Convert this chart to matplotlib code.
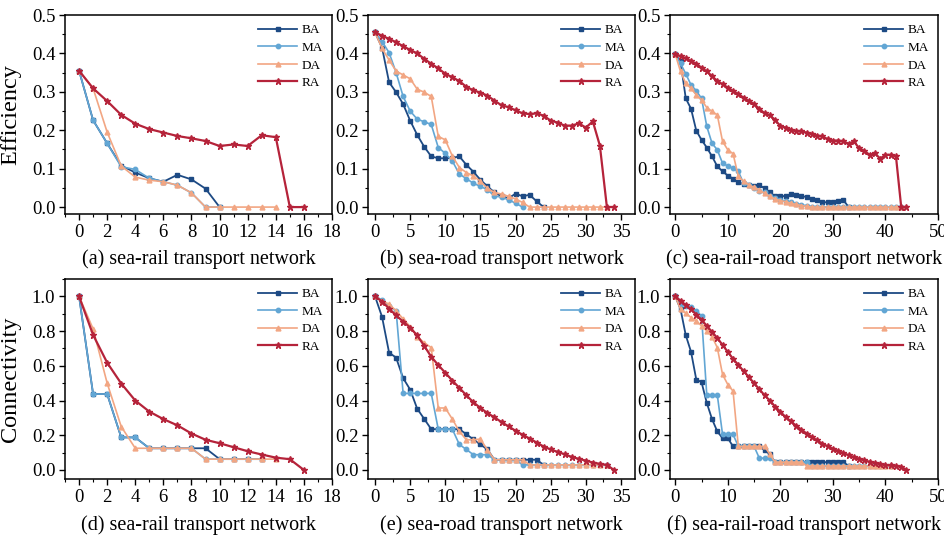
import matplotlib
matplotlib.use("Agg")
import matplotlib.pyplot as plt
from matplotlib.ticker import AutoMinorLocator
import numpy as np

plt.rcParams['font.family'] = ['Liberation Serif', 'DejaVu Serif']
plt.rcParams['mathtext.fontset'] = 'stix'

series_names = ["BA", "MA", "DA", "RA"]

# ---- (a) sea-rail efficiency ----
a_BA = [0.355, 0.226, 0.166, 0.108, 0.090, 0.075, 0.066, 0.084, 0.072, 0.048, 0.0]
a_MA = [0.355, 0.226, 0.166, 0.105, 0.098, 0.075, 0.066, 0.057, 0.037, 0.0, 0.0]
a_DA = [0.355, 0.309, 0.195, 0.107, 0.078, 0.070, 0.066, 0.057, 0.037, 0, 0, 0, 0, 0, 0]
a_RA = [0.355, 0.309, 0.276, 0.240, 0.217, 0.203, 0.194, 0.185, 0.179, 0.172, 0.159,
        0.163, 0.159, 0.187, 0.182, 0, 0]

# ---- (b) sea-road efficiency ----
b_BA = [0.455, 0.415, 0.325, 0.299, 0.268, 0.225, 0.188, 0.157, 0.132, 0.127, 0.127, 0.128,
        0.132, 0.110, 0.092, 0.071, 0.054, 0.038, 0.028, 0.023, 0.035, 0.028, 0.032, 0.015, 0]
b_MA = [0.455, 0.431, 0.402, 0.350, 0.288, 0.250, 0.229, 0.222, 0.215, 0.155, 0.140, 0.120,
        0.086, 0.074, 0.062, 0.054, 0.045, 0.029, 0.026, 0.019, 0.010, 0]
b_DA = [0.455, 0.413, 0.383, 0.354, 0.344, 0.334, 0.307, 0.299, 0.288, 0.184, 0.175, 0.133,
        0.103, 0.090, 0.081, 0.067, 0.049, 0.038, 0.034, 0.028, 0.021, 0.012, 0,
        0, 0, 0, 0, 0, 0, 0, 0, 0, 0, 0]
b_RA = [0.455, 0.446, 0.438, 0.429, 0.419, 0.409, 0.400, 0.386, 0.373, 0.361, 0.347, 0.338,
        0.328, 0.313, 0.304, 0.298, 0.290, 0.277, 0.265, 0.260, 0.252, 0.244, 0.242, 0.244,
        0.238, 0.225, 0.220, 0.212, 0.212, 0.218, 0.207, 0.223, 0.160, 0, 0]

# ---- (c) sea-rail-road efficiency ----
c_BA = [0.398, 0.379, 0.283, 0.256, 0.199, 0.175, 0.155, 0.132, 0.106, 0.093,
        0.082, 0.074, 0.064, 0.060, 0.057, 0.055, 0.057, 0.049, 0.038, 0.028,
        0.028, 0.029, 0.033, 0.031, 0.029, 0.026, 0.022, 0.019, 0.012, 0.013,
        0.014, 0.016, 0.018, 0]
c_MA = [0.398, 0.374, 0.347, 0.318, 0.303, 0.283, 0.210, 0.166, 0.149, 0.114,
        0.107, 0.101, 0.093, 0.062, 0.058, 0.049, 0.043, 0.038, 0.029, 0.023,
        0.019, 0.015, 0.012, 0.009, 0.006, 0.003,
        0, 0, 0, 0, 0, 0, 0, 0, 0, 0, 0, 0, 0, 0, 0, 0, 0, 0]
c_DA = [0.398, 0.353, 0.322, 0.309, 0.292, 0.279, 0.259, 0.249, 0.240, 0.171,
        0.149, 0.139, 0.080, 0.067, 0.058, 0.051, 0.045, 0.036, 0.028, 0.021,
        0.017, 0.014, 0.010, 0.007, 0.004, 0.002,
        0, 0, 0, 0, 0, 0, 0, 0, 0, 0, 0, 0, 0, 0, 0, 0, 0, 0]
c_RA = [0.398, 0.393, 0.387, 0.380, 0.373, 0.363, 0.353, 0.341, 0.328, 0.320,
        0.311, 0.302, 0.294, 0.285, 0.276, 0.268, 0.256, 0.244, 0.239, 0.227,
        0.211, 0.207, 0.201, 0.197, 0.197, 0.194, 0.190, 0.186, 0.184, 0.177,
        0.173, 0.173, 0.171, 0.165, 0.171, 0.153, 0.146, 0.136, 0.140, 0.126,
        0.136, 0.136, 0.132, 0, 0]

# ---- (d) sea-rail connectivity ----
d_BA = [1.0, 0.4375, 0.4375, 0.1875, 0.1875, 0.125, 0.125, 0.125, 0.125, 0.125,
        0.0625, 0.0625, 0.0625, 0.0625]
d_MA = [1.0, 0.4375, 0.4375, 0.1875, 0.1875, 0.125, 0.125, 0.125, 0.125, 0.0625,
        0.0625, 0.0625, 0.0625, 0.0625]
d_DA = [1.0, 0.8125, 0.5, 0.25, 0.125, 0.125, 0.125, 0.125, 0.125, 0.0625,
        0.0625, 0.0625, 0.0625, 0.0625, 0.0625]
d_RA = [1.0, 0.778, 0.618, 0.498, 0.400, 0.336, 0.293, 0.257, 0.210, 0.174,
        0.154, 0.131, 0.108, 0.089, 0.071, 0.062, 0.0]

# ---- (e) sea-road connectivity ----
e_BA = [1.0, 0.882, 0.676, 0.647, 0.529, 0.463, 0.353, 0.294, 0.235, 0.235,
        0.235, 0.235, 0.235, 0.206, 0.176, 0.147, 0.118, 0.0588, 0.0588, 0.0588,
        0.0588, 0.0588, 0.0588, 0.0588, 0.0294]
e_MA = [1.0, 0.98, 0.945, 0.917, 0.441, 0.441, 0.441, 0.441, 0.441, 0.235,
        0.235, 0.235, 0.147, 0.118, 0.088, 0.088, 0.088, 0.0588, 0.0588, 0.0588,
        0.0588, 0.0294, 0.0294, 0.0294, 0.0294, 0.0294, 0.0294, 0.0294, 0.0294,
        0.0294, 0.0294, 0.0294, 0.0294, 0.0294]
e_DA = [1.0, 0.975, 0.955, 0.917, 0.87, 0.826, 0.768, 0.733, 0.705, 0.357,
        0.357, 0.293, 0.222, 0.174, 0.174, 0.178, 0.116, 0.0588, 0.0588, 0.0588,
        0.0588, 0.0588, 0.0294, 0.0294, 0.0294, 0.0294, 0.0294, 0.0294, 0.0294,
        0.0294, 0.0294, 0.0294, 0.0294, 0.0294]
e_RA = [1.0, 0.97, 0.93, 0.89, 0.855, 0.82, 0.775, 0.715, 0.652, 0.604,
        0.56, 0.515, 0.473, 0.43, 0.39, 0.357, 0.328, 0.303, 0.276, 0.251,
        0.226, 0.203, 0.181, 0.158, 0.135, 0.118, 0.104, 0.09, 0.075, 0.064,
        0.054, 0.043, 0.035, 0.029, 0.0]

# ---- (f) sea-rail-road connectivity ----
f_BA = [1.0, 0.927, 0.776, 0.681, 0.521, 0.506, 0.386, 0.293, 0.222, 0.183,
        0.183, 0.136, 0.136, 0.136, 0.136, 0.136, 0.136, 0.114, 0.091, 0.045,
        0.045, 0.045, 0.045, 0.045, 0.045, 0.045, 0.045, 0.045, 0.045, 0.045,
        0.045, 0.045, 0.045, 0.023]
f_MA = [1.0, 0.956, 0.946, 0.936, 0.917, 0.888, 0.432, 0.432, 0.432, 0.205,
        0.205, 0.205, 0.136, 0.136, 0.136, 0.136, 0.068, 0.068, 0.068, 0.045,
        0.045, 0.045, 0.045, 0.045, 0.045, 0.045, 0.023, 0.023, 0.023, 0.023,
        0.023, 0.023, 0.023, 0.023, 0.023, 0.023, 0.023, 0.023, 0.023, 0.023,
        0.023, 0.023]
f_DA = [1.0, 0.927, 0.903, 0.878, 0.859, 0.830, 0.801, 0.768, 0.705, 0.55,
        0.492, 0.454, 0.136, 0.136, 0.136, 0.136, 0.136, 0.136, 0.091, 0.045,
        0.045, 0.045, 0.045, 0.045, 0.045, 0.023, 0.023, 0.023, 0.023, 0.023,
        0.023, 0.023, 0.023, 0.023, 0.023, 0.023, 0.023, 0.023, 0.023, 0.023,
        0.023, 0.023]
f_RA = [1.0, 0.975, 0.95, 0.925, 0.895, 0.865, 0.83, 0.795, 0.76, 0.72,
        0.68, 0.64, 0.605, 0.57, 0.535, 0.5, 0.465, 0.43, 0.40, 0.365,
        0.335, 0.305, 0.28, 0.255, 0.232, 0.21, 0.19, 0.17, 0.152, 0.136,
        0.122, 0.109, 0.097, 0.085, 0.074, 0.064, 0.055, 0.047, 0.04, 0.034,
        0.029, 0.026, 0.023, 0.019, 0.0]

panel_titles = ["(a) sea-rail transport network", "(b) sea-road transport network",
                "(c) sea-rail-road transport network", "(d) sea-rail transport network",
                "(e) sea-road transport network", "(f) sea-rail-road transport network"]
y_labels = ["Efficiency", "Connectivity"]
x_ticks = [np.arange(0, 19, 2), np.arange(0, 36, 5), np.arange(0, 51, 10)]
x_lims = [(-1, 18), (-1, 37), (-1, 50)]

panels = [
    [a_BA, a_MA, a_DA, a_RA], [b_BA, b_MA, b_DA, b_RA], [c_BA, c_MA, c_DA, c_RA],
    [d_BA, d_MA, d_DA, d_RA], [e_BA, e_MA, e_DA, e_RA], [f_BA, f_MA, f_DA, f_RA],
]

colors = ["#1d4a84", "#62a6d4", "#f2a683", "#b5233a"]
markers = ["s", "o", "^", "*"]
lws = [1.3, 1.2, 1.2, 1.6]
msizes = [3.2, 3.2, 3.5, 4.5]

fig = plt.figure(figsize=(9.44, 5.35), dpi=100)
W, H = 944, 535
lefts = [65, 368, 670]
widths = [267, 267, 268]
tops = [15, 279]
heights = [199, 200]
title_offsets = [-0.225, -0.232]

for i, data in enumerate(panels):
    r, c = divmod(i, 3)
    ax = fig.add_axes([lefts[c] / W, 1 - (tops[r] + heights[r]) / H,
                       widths[c] / W, heights[r] / H])
    for k, ys in enumerate(data):
        xs = np.arange(len(ys))
        ax.plot(xs, ys, color=colors[k], marker=markers[k], lw=lws[k],
                ms=msizes[k], label=series_names[k])
    ax.set_xlim(*x_lims[c])
    ax.set_xticks(x_ticks[c])
    if r == 0:
        ax.set_ylim(-0.018, 0.5)
        ax.set_yticks(np.arange(0, 0.51, 0.1))
        ax.set_yticklabels([f"{v:.1f}" for v in np.arange(0, 0.51, 0.1)])
    else:
        ax.set_ylim(-0.052, 1.1)
        ax.set_yticks(np.arange(0, 1.01, 0.2))
        ax.set_yticklabels([f"{v:.1f}" for v in np.arange(0, 1.01, 0.2)])
    ax.xaxis.set_minor_locator(AutoMinorLocator(2))
    ax.yaxis.set_minor_locator(AutoMinorLocator(2))
    ax.tick_params(which="major", direction="out", length=4, width=1,
                   labelsize=13.5, pad=3)
    ax.tick_params(which="minor", direction="out", length=2.5, width=0.8)
    for s in ax.spines.values():
        s.set_linewidth(1.1)
    if c == 0:
        ax.set_ylabel(y_labels[r], fontsize=17.5)
        ax.yaxis.set_label_coords(-0.165, 0.5)
    ax.legend(loc="upper right", frameon=False, fontsize=9.5, handlelength=3,
              labelspacing=0.4, borderaxespad=0.3, handletextpad=0.3)
    ax.text(0.5, title_offsets[r], panel_titles[i], transform=ax.transAxes,
            ha="center", va="center", fontsize=14.5)

fig.savefig("out.png", dpi=100)
